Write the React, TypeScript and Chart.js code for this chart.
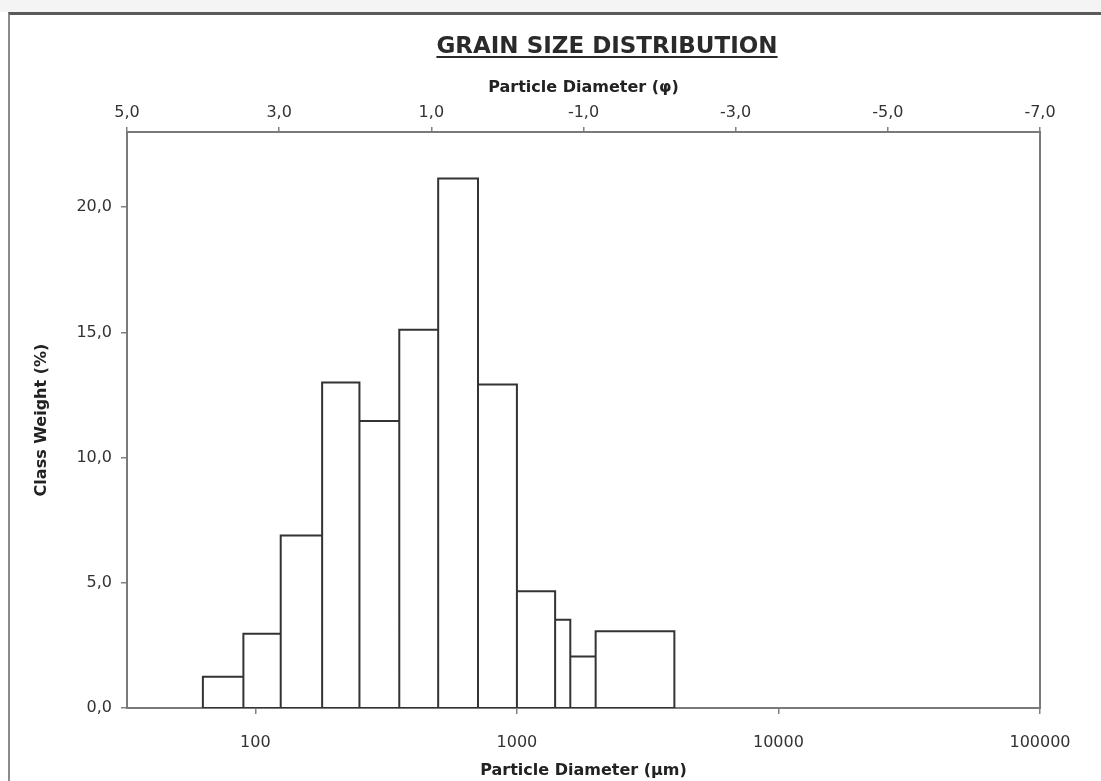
import React, { useEffect, useRef } from "react";
import { Chart, registerables } from "chart.js";

Chart.register(...registerables);

// ---- data ----
const binEdgesUm = [63, 90, 125, 180, 250, 355, 500, 710, 1000, 1400, 1600, 2000, 4000];
const classWeights = [1.25, 2.96, 6.89, 13.0, 11.46, 15.1, 21.14, 12.92, 4.66, 3.52, 2.06, 3.06];
const yTickValues = [0, 5, 10, 15, 20];
const umTickValues = [100, 1000, 10000, 100000];
const phiTickValues = [5, 3, 1, -1, -3, -5, -7];
const umAxisRange = [32.3, 100000];
const chartTitle = "GRAIN SIZE DISTRIBUTION";
const xTitle = "Particle Diameter (µm)";
const phiTitle = "Particle Diameter (φ)";
const yTitle = "Class Weight (%)";

const comma = (v: number) => v.toFixed(1).replace(".", ",");

function buildOutline() {
  const pts: { x: number; y: number }[] = [];
  for (let i = 0; i < classWeights.length; i++) {
    const lo = binEdgesUm[i];
    const hi = binEdgesUm[i + 1];
    const h = classWeights[i];
    pts.push({ x: lo, y: 0 }, { x: lo, y: h }, { x: hi, y: h }, { x: hi, y: 0 }, { x: lo, y: 0 });
  }
  return pts;
}

const titlePlugin = {
  id: "grainTitle",
  afterDraw(chart: any) {
    const ctx = chart.ctx;
    ctx.save();
    ctx.font = 'bold 23px "DejaVu Sans"';
    ctx.fillStyle = "#2a2a2a";
    ctx.textAlign = "center";
    ctx.textBaseline = "alphabetic";
    const x = 607;
    const base = 53;
    ctx.fillText(chartTitle, x, base);
    const w = ctx.measureText(chartTitle).width;
    ctx.fillRect(x - w / 2, base + 3, w, 2);
    ctx.restore();
  },
};

const framePlugin = {
  id: "plotFrame",
  beforeDatasetsDraw(chart: any) {
    const { ctx, chartArea } = chart;
    ctx.save();
    ctx.strokeStyle = "#7a7a7a";
    ctx.lineWidth = 2;
    ctx.strokeRect(chartArea.left, chartArea.top, chartArea.right - chartArea.left, chartArea.bottom - chartArea.top);
    ctx.restore();
  },
};

const tickFont = { family: "DejaVu Sans", size: 16 };
const titleFont = { family: "DejaVu Sans", size: 16, weight: "bold" as const };

export default function App() {
  const ref = useRef<HTMLCanvasElement | null>(null);

  useEffect(() => {
    if (!ref.current) return;
    const chart = new Chart(ref.current, {
      type: "line",
      data: {
        datasets: [
          {
            label: "Class weight",
            data: buildOutline(),
            borderColor: "#333333",
            borderWidth: 2,
            pointRadius: 0,
            fill: false,
            tension: 0,
            borderJoinStyle: "miter",
            xAxisID: "x",
            yAxisID: "y",
          },
        ],
      },
      options: {
        responsive: false,
        animation: false,
        layout: { padding: { left: 32, right: 61, top: 78, bottom: 1 } },
        plugins: {
          legend: { display: false },
          tooltip: { enabled: false },
          title: { display: false },
        },
        scales: {
          x: {
            type: "logarithmic",
            position: "bottom",
            min: umAxisRange[0],
            max: umAxisRange[1],
            afterBuildTicks: (s: any) => {
              s.ticks = umTickValues.map((v) => ({ value: v }));
            },
            afterFit: (s: any) => {
              s.height = 72;
            },
            ticks: {
              font: tickFont,
              color: "#333",
              padding: 19,
              maxRotation: 0,
              autoSkip: false,
              callback: (v: any) => String(v),
            },
            grid: { display: true, drawOnChartArea: false, tickLength: 6, color: "#808080", lineWidth: 1.5 },
            border: { display: false },
            title: { display: true, text: xTitle, font: titleFont, color: "#222", padding: 0 },
          },
          xPhi: {
            type: "linear",
            position: "top",
            min: -7,
            max: 5,
            reverse: true,
            afterBuildTicks: (s: any) => {
              s.ticks = phiTickValues.map((v) => ({ value: v }));
            },
            afterFit: (s: any) => {
              s.height = 54;
            },
            ticks: {
              font: tickFont,
              color: "#333",
              padding: 5,
              maxRotation: 0,
              autoSkip: false,
              callback: (v: any) => comma(Number(v)),
            },
            grid: { display: true, drawOnChartArea: false, tickLength: 5, color: "#808080", lineWidth: 1.5 },
            border: { display: false },
            title: { display: true, text: phiTitle, font: titleFont, color: "#222", padding: 0 },
          },
          y: {
            type: "linear",
            position: "left",
            min: 0,
            max: 23,
            afterBuildTicks: (s: any) => {
              s.ticks = yTickValues.map((v) => ({ value: v }));
            },
            afterFit: (s: any) => {
              s.width = 95;
            },
            ticks: {
              font: tickFont,
              color: "#333",
              padding: 9,
              callback: (v: any) => comma(Number(v)),
            },
            grid: { display: true, drawOnChartArea: false, tickLength: 6, color: "#808080", lineWidth: 1.5 },
            border: { display: false },
            title: { display: true, text: yTitle, font: titleFont, color: "#222", padding: 0 },
          },
        },
      },
      plugins: [titlePlugin, framePlugin],
    } as any);
    return () => chart.destroy();
  }, []);

  return (
    <div style={{ position: "fixed", left: 0, top: 0, width: 1101, height: 781, background: "#fff", overflow: "hidden" }}>
      <div
        style={{
          position: "absolute",
          left: 0,
          top: 0,
          width: 1101,
          height: 12,
          background: "#f4f4f4",
        }}
      />
      <div
        style={{
          position: "absolute",
          left: 8,
          top: 12,
          width: 1100,
          height: 780,
          borderTop: "3px solid #5a5a5a",
          borderLeft: "2px solid #8a8a8a",
          boxSizing: "border-box",
        }}
      />
      <canvas ref={ref} width={1101} height={781} style={{ position: "absolute", left: 0, top: 0 }} />
    </div>
  );
}
